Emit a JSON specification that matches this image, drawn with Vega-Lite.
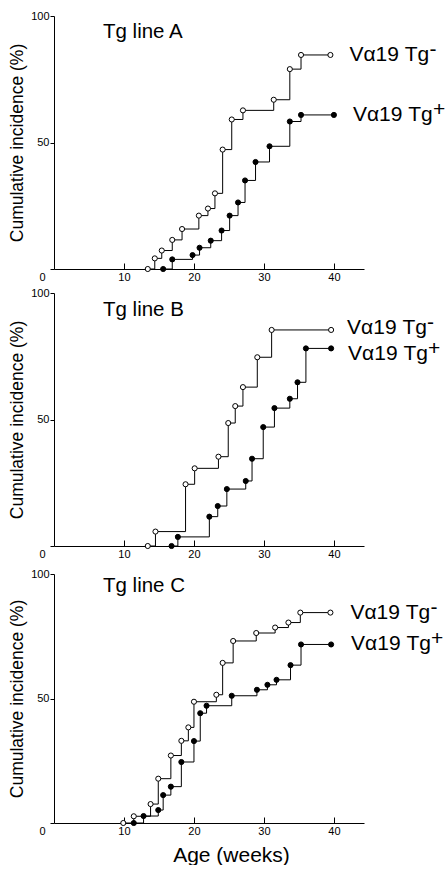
{
  "$schema": "https://vega.github.io/schema/vega-lite/v6.json",
  "padding": {"left": 8, "top": 10, "right": 0, "bottom": 0},
  "background": "white",
  "config": {
    "font": "Liberation Sans",
    "view": {"stroke": null},
    "axis": {"grid": false, "domainColor": "black", "tickColor": "black", "labelColor": "black", "titleColor": "black", "labelFont": "Liberation Sans", "titleFont": "Liberation Sans", "labelFontSize": 11, "titleFontWeight": "normal", "domainWidth": 1, "tickWidth": 1}
  },
  "datasets": {
    "km": [
      {"panel": "A", "group": "neg", "week": 13.4, "pct": 0},
      {"panel": "A", "group": "neg", "week": 14.4, "pct": 4.2},
      {"panel": "A", "group": "neg", "week": 15.4, "pct": 7.3},
      {"panel": "A", "group": "neg", "week": 16.9, "pct": 11.5},
      {"panel": "A", "group": "neg", "week": 18.3, "pct": 15.8},
      {"panel": "A", "group": "neg", "week": 20.7, "pct": 21.1},
      {"panel": "A", "group": "neg", "week": 22.0, "pct": 23.9},
      {"panel": "A", "group": "neg", "week": 23.0, "pct": 29.9},
      {"panel": "A", "group": "neg", "week": 24.1, "pct": 47.2},
      {"panel": "A", "group": "neg", "week": 25.4, "pct": 59.1},
      {"panel": "A", "group": "neg", "week": 27.0, "pct": 62.7},
      {"panel": "A", "group": "neg", "week": 31.4, "pct": 66.9},
      {"panel": "A", "group": "neg", "week": 33.7, "pct": 79.0},
      {"panel": "A", "group": "neg", "week": 35.3, "pct": 84.6},
      {"panel": "A", "group": "neg", "week": 39.5, "pct": 84.6},
      {"panel": "A", "group": "pos", "week": 15.6, "pct": 0},
      {"panel": "A", "group": "pos", "week": 16.9, "pct": 3.8},
      {"panel": "A", "group": "pos", "week": 19.8, "pct": 5.5},
      {"panel": "A", "group": "pos", "week": 20.8, "pct": 8.4},
      {"panel": "A", "group": "pos", "week": 22.4, "pct": 11.2},
      {"panel": "A", "group": "pos", "week": 23.95, "pct": 15.2},
      {"panel": "A", "group": "pos", "week": 25.1, "pct": 21.1},
      {"panel": "A", "group": "pos", "week": 26.3, "pct": 26.3},
      {"panel": "A", "group": "pos", "week": 27.3, "pct": 35.0},
      {"panel": "A", "group": "pos", "week": 28.8, "pct": 42.3},
      {"panel": "A", "group": "pos", "week": 30.8, "pct": 48.5},
      {"panel": "A", "group": "pos", "week": 33.7, "pct": 58.3},
      {"panel": "A", "group": "pos", "week": 35.3, "pct": 60.9},
      {"panel": "A", "group": "pos", "week": 40.0, "pct": 60.9},
      {"panel": "B", "group": "neg", "week": 13.4, "pct": 0},
      {"panel": "B", "group": "neg", "week": 14.5, "pct": 5.7},
      {"panel": "B", "group": "neg", "week": 18.8, "pct": 24.4},
      {"panel": "B", "group": "neg", "week": 20.1, "pct": 30.7},
      {"panel": "B", "group": "neg", "week": 23.5, "pct": 35.3},
      {"panel": "B", "group": "neg", "week": 24.9, "pct": 48.6},
      {"panel": "B", "group": "neg", "week": 25.9, "pct": 55.3},
      {"panel": "B", "group": "neg", "week": 27.0, "pct": 62.8},
      {"panel": "B", "group": "neg", "week": 29.05, "pct": 74.6},
      {"panel": "B", "group": "neg", "week": 31.1, "pct": 85.4},
      {"panel": "B", "group": "neg", "week": 39.6, "pct": 85.4},
      {"panel": "B", "group": "pos", "week": 16.8, "pct": 0},
      {"panel": "B", "group": "pos", "week": 17.7, "pct": 3.6},
      {"panel": "B", "group": "pos", "week": 22.2, "pct": 11.6},
      {"panel": "B", "group": "pos", "week": 23.4, "pct": 15.8},
      {"panel": "B", "group": "pos", "week": 24.7, "pct": 22.5},
      {"panel": "B", "group": "pos", "week": 27.4, "pct": 25.7},
      {"panel": "B", "group": "pos", "week": 28.3, "pct": 34.5},
      {"panel": "B", "group": "pos", "week": 29.9, "pct": 47.0},
      {"panel": "B", "group": "pos", "week": 31.5, "pct": 54.5},
      {"panel": "B", "group": "pos", "week": 33.7, "pct": 58.2},
      {"panel": "B", "group": "pos", "week": 34.8, "pct": 64.7},
      {"panel": "B", "group": "pos", "week": 36.0, "pct": 78.1},
      {"panel": "B", "group": "pos", "week": 39.6, "pct": 78.1},
      {"panel": "C", "group": "neg", "week": 9.9, "pct": 0},
      {"panel": "C", "group": "neg", "week": 11.4, "pct": 2.7},
      {"panel": "C", "group": "neg", "week": 13.8, "pct": 7.6},
      {"panel": "C", "group": "neg", "week": 14.9, "pct": 17.8},
      {"panel": "C", "group": "neg", "week": 16.7, "pct": 27.1},
      {"panel": "C", "group": "neg", "week": 18.2, "pct": 33.0},
      {"panel": "C", "group": "neg", "week": 19.2, "pct": 38.4},
      {"panel": "C", "group": "neg", "week": 20.0, "pct": 48.7},
      {"panel": "C", "group": "neg", "week": 23.2, "pct": 51.5},
      {"panel": "C", "group": "neg", "week": 24.1, "pct": 64.3},
      {"panel": "C", "group": "neg", "week": 25.6, "pct": 73.1},
      {"panel": "C", "group": "neg", "week": 28.9, "pct": 76.3},
      {"panel": "C", "group": "neg", "week": 31.6, "pct": 78.5},
      {"panel": "C", "group": "neg", "week": 33.5, "pct": 80.5},
      {"panel": "C", "group": "neg", "week": 35.2, "pct": 84.5},
      {"panel": "C", "group": "neg", "week": 39.5, "pct": 84.5},
      {"panel": "C", "group": "pos", "week": 11.4, "pct": 0},
      {"panel": "C", "group": "pos", "week": 12.8, "pct": 2.8},
      {"panel": "C", "group": "pos", "week": 14.9, "pct": 5.2},
      {"panel": "C", "group": "pos", "week": 15.6, "pct": 11.2},
      {"panel": "C", "group": "pos", "week": 16.7, "pct": 14.6},
      {"panel": "C", "group": "pos", "week": 18.2, "pct": 24.5},
      {"panel": "C", "group": "pos", "week": 20.0, "pct": 32.9},
      {"panel": "C", "group": "pos", "week": 20.9, "pct": 44.1},
      {"panel": "C", "group": "pos", "week": 21.8, "pct": 47.1},
      {"panel": "C", "group": "pos", "week": 25.4, "pct": 51.1},
      {"panel": "C", "group": "pos", "week": 29.0, "pct": 53.5},
      {"panel": "C", "group": "pos", "week": 30.5, "pct": 55.5},
      {"panel": "C", "group": "pos", "week": 31.8, "pct": 57.5},
      {"panel": "C", "group": "pos", "week": 33.8, "pct": 63.4},
      {"panel": "C", "group": "pos", "week": 35.3, "pct": 71.7},
      {"panel": "C", "group": "pos", "week": 39.6, "pct": 71.7}
    ],
    "labels": [
      {"panel": "A", "group": "neg", "main": "Vα19 Tg", "sup": "-", "week": 39.5, "pct": 84.6},
      {"panel": "A", "group": "pos", "main": "Vα19 Tg", "sup": "+", "week": 40.0, "pct": 60.9},
      {"panel": "B", "group": "neg", "main": "Vα19 Tg", "sup": "-", "week": 39.6, "pct": 85.4},
      {"panel": "B", "group": "pos", "main": "Vα19 Tg", "sup": "+", "week": 39.6, "pct": 78.1},
      {"panel": "C", "group": "neg", "main": "Vα19 Tg", "sup": "-", "week": 39.5, "pct": 84.5},
      {"panel": "C", "group": "pos", "main": "Vα19 Tg", "sup": "+", "week": 39.6, "pct": 71.7}
    ],
    "titles": [
      {"panel": "A", "t": "Tg line A"},
      {"panel": "B", "t": "Tg line B"},
      {"panel": "C", "t": "Tg line C"}
    ]
  },
  "vconcat": [
    {
      "spacing": 5,
      "resolve": {"scale": {"x": "independent", "y": "independent"}},
      "vconcat": [
        {
          "width": 310, "height": 253,
          "layer": [
            {"data": {"name": "km"}, "transform": [{"filter": "datum.panel === 'A'"}],
             "mark": {"type": "line", "interpolate": "step-after", "color": "black", "strokeWidth": 1},
             "encoding": {
               "x": {"field": "week", "type": "quantitative", "scale": {"domain": [0, 44.3], "nice": false, "zero": false},
                     "axis": {"values": [10, 20, 30, 40], "tickSize": -6, "labelPadding": 8, "labelAngle": 0, "labelFlush": false, "title": null}},
               "y": {"field": "pct", "type": "quantitative", "scale": {"domain": [0, 100], "nice": false},
                     "axis": {"values": [0, 50, 100], "tickSize": 4,
                              "labelPadding": {"condition": {"test": "datum.value === 0", "value": 5}, "value": 1},
                              "labelBaseline": {"condition": {"test": "datum.value === 0", "value": "top"}, "value": "middle"},
                              "labelOffset": {"condition": {"test": "datum.value === 0", "value": 2}, "value": 0},
                              "title": "Cumulative incidence (%)", "titleFontSize": 17.5, "titlePadding": 4}},
               "detail": {"field": "group"}}},
            {"data": {"name": "km"}, "transform": [{"filter": "datum.panel === 'A'"}],
             "mark": {"type": "point", "shape": "circle", "filled": true, "stroke": "black", "strokeWidth": 1, "size": 26, "opacity": 1},
             "encoding": {"x": {"field": "week", "type": "quantitative"}, "y": {"field": "pct", "type": "quantitative"},
                          "fill": {"field": "group", "type": "nominal", "scale": {"domain": ["neg", "pos"], "range": ["white", "black"]}, "legend": null}}},
            {"data": {"name": "labels"}, "transform": [{"filter": "datum.panel === 'A'"}],
             "mark": {"type": "text", "align": "left", "baseline": "middle", "dx": 19, "fontSize": 21, "color": "black"},
             "encoding": {"x": {"field": "week", "type": "quantitative"}, "y": {"field": "pct", "type": "quantitative"}, "text": {"field": "main"}}},
            {"data": {"name": "labels"}, "transform": [{"filter": "datum.panel === 'A'"}],
             "mark": {"type": "text", "align": "left", "baseline": "middle", "dx": 99, "dy": -5, "fontSize": 21, "color": "black"},
             "encoding": {"x": {"field": "week", "type": "quantitative"}, "y": {"field": "pct", "type": "quantitative"}, "text": {"field": "sup"}}},
            {"data": {"name": "titles"}, "transform": [{"filter": "datum.panel === 'A'"}],
             "mark": {"type": "text", "align": "left", "baseline": "alphabetic", "fontSize": 20.5, "color": "black"},
             "encoding": {"x": {"datum": 7, "type": "quantitative"}, "y": {"datum": 91.5, "type": "quantitative"}, "text": {"field": "t"}}}
          ]
        },
        {
          "width": 310, "height": 253,
          "layer": [
            {"data": {"name": "km"}, "transform": [{"filter": "datum.panel === 'B'"}],
             "mark": {"type": "line", "interpolate": "step-after", "color": "black", "strokeWidth": 1},
             "encoding": {
               "x": {"field": "week", "type": "quantitative", "scale": {"domain": [0, 44.3], "nice": false, "zero": false},
                     "axis": {"values": [10, 20, 30, 40], "tickSize": -6, "labelPadding": 8, "labelAngle": 0, "labelFlush": false, "title": null}},
               "y": {"field": "pct", "type": "quantitative", "scale": {"domain": [0, 100], "nice": false},
                     "axis": {"values": [0, 50, 100], "tickSize": 4,
                              "labelPadding": {"condition": {"test": "datum.value === 0", "value": 5}, "value": 1},
                              "labelBaseline": {"condition": {"test": "datum.value === 0", "value": "top"}, "value": "middle"},
                              "labelOffset": {"condition": {"test": "datum.value === 0", "value": 2}, "value": 0},
                              "title": "Cumulative incidence (%)", "titleFontSize": 17.5, "titlePadding": 4}},
               "detail": {"field": "group"}}},
            {"data": {"name": "km"}, "transform": [{"filter": "datum.panel === 'B'"}],
             "mark": {"type": "point", "shape": "circle", "filled": true, "stroke": "black", "strokeWidth": 1, "size": 26, "opacity": 1},
             "encoding": {"x": {"field": "week", "type": "quantitative"}, "y": {"field": "pct", "type": "quantitative"},
                          "fill": {"field": "group", "type": "nominal", "scale": {"domain": ["neg", "pos"], "range": ["white", "black"]}, "legend": null}}},
            {"data": {"name": "labels"}, "transform": [{"filter": "datum.panel === 'B' && datum.group === 'neg'"}],
             "mark": {"type": "text", "align": "left", "baseline": "middle", "dx": 16, "dy": -2, "fontSize": 21, "color": "black"},
             "encoding": {"x": {"field": "week", "type": "quantitative"}, "y": {"field": "pct", "type": "quantitative"}, "text": {"field": "main"}}},
            {"data": {"name": "labels"}, "transform": [{"filter": "datum.panel === 'B' && datum.group === 'neg'"}],
             "mark": {"type": "text", "align": "left", "baseline": "middle", "dx": 96, "dy": -7, "fontSize": 21, "color": "black"},
             "encoding": {"x": {"field": "week", "type": "quantitative"}, "y": {"field": "pct", "type": "quantitative"}, "text": {"field": "sup"}}},
            {"data": {"name": "labels"}, "transform": [{"filter": "datum.panel === 'B' && datum.group === 'pos'"}],
             "mark": {"type": "text", "align": "left", "baseline": "middle", "dx": 17, "dy": 6, "fontSize": 21, "color": "black"},
             "encoding": {"x": {"field": "week", "type": "quantitative"}, "y": {"field": "pct", "type": "quantitative"}, "text": {"field": "main"}}},
            {"data": {"name": "labels"}, "transform": [{"filter": "datum.panel === 'B' && datum.group === 'pos'"}],
             "mark": {"type": "text", "align": "left", "baseline": "middle", "dx": 97, "dy": 1, "fontSize": 21, "color": "black"},
             "encoding": {"x": {"field": "week", "type": "quantitative"}, "y": {"field": "pct", "type": "quantitative"}, "text": {"field": "sup"}}},
            {"data": {"name": "titles"}, "transform": [{"filter": "datum.panel === 'B'"}],
             "mark": {"type": "text", "align": "left", "baseline": "alphabetic", "fontSize": 20.5, "color": "black"},
             "encoding": {"x": {"datum": 7, "type": "quantitative"}, "y": {"datum": 90.8, "type": "quantitative"}, "text": {"field": "t"}}}
          ]
        }
      ]
    },
    {
      "width": 310, "height": 249,
      "layer": [
        {"data": {"name": "km"}, "transform": [{"filter": "datum.panel === 'C'"}],
         "mark": {"type": "line", "interpolate": "step-after", "color": "black", "strokeWidth": 1},
         "encoding": {
           "x": {"field": "week", "type": "quantitative", "scale": {"domain": [0, 44.3], "nice": false, "zero": false},
                 "axis": {"values": [10, 20, 30, 40], "tickSize": -6, "labelPadding": 8, "labelAngle": 0, "labelFlush": false,
                          "title": "Age (weeks)", "titleFontSize": 21, "titlePadding": 8, "titleX": 177, "titleAlign": "center"}},
           "y": {"field": "pct", "type": "quantitative", "scale": {"domain": [0, 100], "nice": false},
                 "axis": {"values": [0, 50, 100], "tickSize": 4,
                          "labelPadding": {"condition": {"test": "datum.value === 0", "value": 5}, "value": 1},
                          "labelBaseline": {"condition": {"test": "datum.value === 0", "value": "top"}, "value": "middle"},
                          "labelOffset": {"condition": {"test": "datum.value === 0", "value": 2}, "value": 0},
                          "title": "Cumulative incidence (%)", "titleFontSize": 17.5, "titlePadding": 4}},
           "detail": {"field": "group"}}},
        {"data": {"name": "km"}, "transform": [{"filter": "datum.panel === 'C'"}],
         "mark": {"type": "point", "shape": "circle", "filled": true, "stroke": "black", "strokeWidth": 1, "size": 26, "opacity": 1},
         "encoding": {"x": {"field": "week", "type": "quantitative"}, "y": {"field": "pct", "type": "quantitative"},
                      "fill": {"field": "group", "type": "nominal", "scale": {"domain": ["neg", "pos"], "range": ["white", "black"]}, "legend": null}}},
        {"data": {"name": "labels"}, "transform": [{"filter": "datum.panel === 'C'"}],
         "mark": {"type": "text", "align": "left", "baseline": "middle", "dx": 20, "fontSize": 21, "color": "black"},
         "encoding": {"x": {"field": "week", "type": "quantitative"}, "y": {"field": "pct", "type": "quantitative"}, "text": {"field": "main"}}},
        {"data": {"name": "labels"}, "transform": [{"filter": "datum.panel === 'C'"}],
         "mark": {"type": "text", "align": "left", "baseline": "middle", "dx": 100, "dy": -5, "fontSize": 21, "color": "black"},
         "encoding": {"x": {"field": "week", "type": "quantitative"}, "y": {"field": "pct", "type": "quantitative"}, "text": {"field": "sup"}}},
        {"data": {"name": "titles"}, "transform": [{"filter": "datum.panel === 'C'"}],
         "mark": {"type": "text", "align": "left", "baseline": "alphabetic", "fontSize": 20.5, "color": "black"},
         "encoding": {"x": {"datum": 7, "type": "quantitative"}, "y": {"datum": 92.8, "type": "quantitative"}, "text": {"field": "t"}}}
      ]
    }
  ],
  "spacing": 9,
  "resolve": {"scale": {"x": "independent", "y": "independent"}}
}
